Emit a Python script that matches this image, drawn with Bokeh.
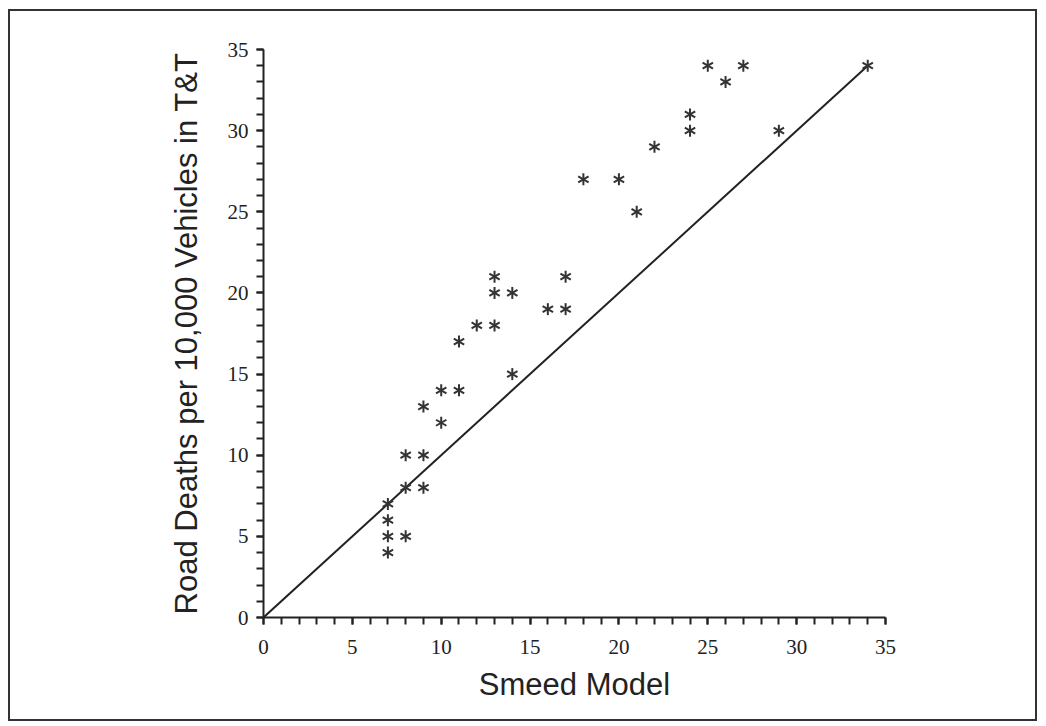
import math
from bokeh.plotting import figure
from bokeh.models import Range1d, SingleIntervalTicker, ColumnDataSource
from bokeh.embed import file_html
from bokeh.resources import INLINE

# Data
smeed = [7, 7, 7, 7, 8, 8, 8, 9, 9, 9, 10, 10, 11, 11, 12, 13, 13, 13, 14, 14,
         16, 17, 17, 18, 20, 21, 22, 24, 24, 25, 26, 27, 29, 34]
deaths = [7, 6, 5, 4, 5, 8, 10, 8, 10, 13, 12, 14, 14, 17, 18, 18, 20, 21, 20, 15,
          19, 19, 21, 27, 27, 25, 29, 31, 30, 34, 33, 34, 30, 34]
line_x = [0, 34]
line_y = [0, 34]
x_title = "Smeed Model"
y_title = "Road Deaths per 10,000 Vehicles in T&T"

p = figure(width=1029, height=712, output_backend="svg", toolbar_location=None,
           x_range=Range1d(0, 35), y_range=Range1d(0, 35),
           min_border_left=253, min_border_right=154, min_border_top=38, min_border_bottom=106,
           styles={"border": "2px solid #333", "margin-left": "8px", "margin-top": "9px"})
p.outline_line_color = None
p.grid.visible = False
p.background_fill_color = "white"
p.border_fill_color = "white"

for ax in (p.xaxis[0], p.yaxis[0]):
    ax.ticker = SingleIntervalTicker(interval=5, num_minor_ticks=5)
    ax.axis_line_color = "#222"
    ax.axis_line_width = 2
    ax.major_tick_line_color = "#222"
    ax.minor_tick_line_color = "#222"
    ax.major_tick_line_width = 2
    ax.minor_tick_line_width = 2
    ax.major_tick_in = 0
    ax.minor_tick_in = 0
    ax.major_tick_out = 7
    ax.minor_tick_out = 7
    ax.major_label_text_font = "Liberation Serif"
    ax.major_label_text_font_size = "21px"
    ax.major_label_text_color = "#222"
    ax.axis_label_text_font = "Liberation Sans"
    ax.axis_label_text_font_size = "31px"
    ax.axis_label_text_font_style = "normal"
    ax.axis_label_text_color = "#222"

p.xaxis.axis_label = x_title
p.yaxis.axis_label = y_title
p.xaxis.major_label_standoff = 15
p.yaxis.major_label_standoff = 8
p.xaxis.axis_label_standoff = 10
p.yaxis.axis_label_standoff = 21

p.line(line_x, line_y, line_color="#222", line_width=2)

src = ColumnDataSource(dict(x=smeed, y=deaths))
for ang in (math.pi / 2, math.pi / 6, 5 * math.pi / 6):
    p.scatter("x", "y", source=src, marker="dash", angle=ang, size=12,
              line_color="#333", line_width=2)

open("out.html", "w").write(file_html(p, INLINE))
